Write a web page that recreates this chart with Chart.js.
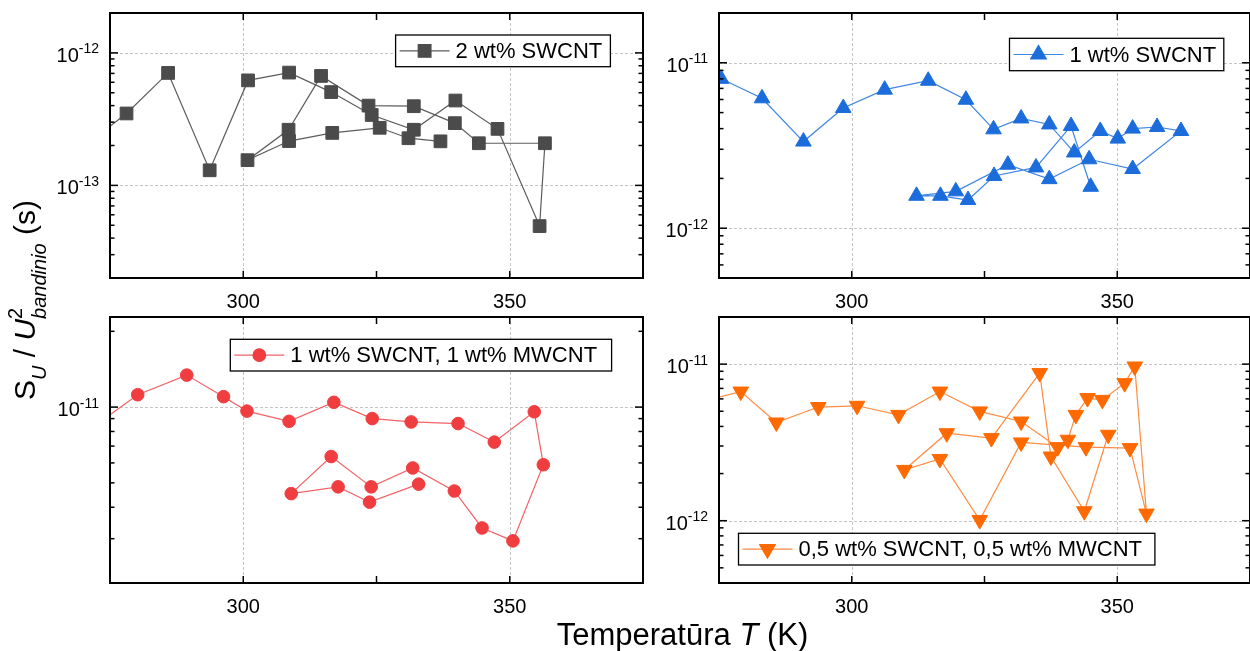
<!DOCTYPE html>
<html lang="lt">
<head>
<meta charset="utf-8">
<title>S_U / U^2 bandinio vs temperatūra</title>
<script src="https://cdn.jsdelivr.net/npm/chart.js@4.4.1/dist/chart.umd.min.js"></script>
<style>
  html, body { margin: 0; padding: 0; background: #fff; }
  body { width: 1250px; height: 651px; position: relative; overflow: hidden; }
  canvas { position: absolute; }
</style>
</head>
<body>
<canvas id="titles" width="1250" height="651" style="left:0;top:0"></canvas>
<canvas id="p1"></canvas>
<canvas id="p2"></canvas>
<canvas id="p3"></canvas>
<canvas id="p4"></canvas>
<script>
// ── axis ticks (shared by all four panels) ──
const xTickValues = [275, 300, 325, 350, 375];
const xLabelValues = [300, 350];

// ── 2 wt% SWCNT (measurement order) ──
const tempSw2 = [272, 278.1, 285.9, 293.7, 300.9, 308.6, 316.5, 324.1, 332.0, 339.8, 347.7, 355.6,
                 356.6, 344.2, 339.7, 332.0, 323.5, 314.6, 308.5, 300.8,
                 308.6, 316.7, 325.6, 331.0, 337.0];
const valSw2  = [2.25e-13, 3.49e-13, 7.06e-13, 1.30e-13, 6.2e-13, 7.1e-13, 5.06e-13, 3.4e-13, 2.63e-13, 4.37e-13, 2.67e-13, 4.93e-14,
                 2.08e-13, 2.08e-13, 2.95e-13, 3.96e-13, 4.0e-13, 6.7e-13, 2.63e-13, 1.55e-13,
                 2.16e-13, 2.49e-13, 2.72e-13, 2.27e-13, 2.15e-13];

// ── 1 wt% SWCNT ──
const tempSw1 = [275.4, 283.1, 290.9, 298.4, 306.2, 314.4, 321.5, 326.7, 331.9, 337.2, 341.9, 346.8, 350.1, 352.9, 357.5, 362.0,
                 352.9, 344.7, 337.2, 329.4, 319.6, 312.2,
                 316.7, 321.9, 326.8, 334.7, 341.3, 345.0];
const valSw1  = [8.0e-12, 6.1e-12, 3.34e-12, 5.33e-12, 6.88e-12, 7.79e-12, 5.98e-12, 3.96e-12, 4.61e-12, 4.24e-12, 2.87e-12, 3.87e-12, 3.48e-12, 4.0e-12, 4.09e-12, 3.87e-12,
                 2.28e-12, 2.61e-12, 1.98e-12, 2.42e-12, 1.67e-12, 1.57e-12,
                 1.57e-12, 1.48e-12, 2.07e-12, 2.33e-12, 4.15e-12, 1.78e-12];

// ── 1 wt% SWCNT, 1 wt% MWCNT ──
const tempMix1 = [272, 280.2, 289.4, 296.3, 300.7, 308.6, 317.0, 324.2, 331.5, 340.3, 347.1, 354.6,
                  356.3, 350.6, 344.8, 339.6, 331.8, 324.0, 316.5, 309.0,
                  317.8, 323.7, 332.9];
const valMix1  = [8.4e-12, 1.12e-11, 1.34e-11, 1.10e-11, 9.64e-12, 8.78e-12, 1.045e-11, 9.0e-12, 8.73e-12, 8.6e-12, 7.26e-12, 9.58e-12,
                  5.9e-12, 2.94e-12, 3.31e-12, 4.64e-12, 5.73e-12, 4.82e-12, 6.36e-12, 4.53e-12,
                  4.82e-12, 4.19e-12, 4.94e-12];

// ── 0,5 wt% SWCNT, 0,5 wt% MWCNT ──
const tempMix05 = [272, 279.1, 285.8, 293.7, 301.0, 308.8, 316.6, 324.1, 331.9, 338.8, 340.7, 342.2, 344.4, 347.2, 351.4, 353.3, 355.5,
                   352.4, 344.1, 331.9, 324.1, 316.6, 309.9,
                   317.9, 326.3, 335.4, 337.5, 343.8, 348.3];
const valMix05  = [5.8e-12, 6.68e-12, 4.24e-12, 5.32e-12, 5.42e-12, 4.74e-12, 6.68e-12, 4.99e-12, 4.30e-12, 2.95e-12, 3.29e-12, 4.74e-12, 6.07e-12, 5.91e-12, 7.56e-12, 9.66e-12, 1.11e-12,
                   2.91e-12, 2.95e-12, 3.16e-12, 1.01e-12, 2.48e-12, 2.11e-12,
                   3.62e-12, 3.37e-12, 8.77e-12, 2.57e-12, 1.15e-12, 3.54e-12];

const FAM = '"Liberation Sans", Arial, Helvetica, sans-serif';

const panels = [
  { id: 'p1', box: [40, 0, 640, 316], area: [110, 13, 643, 278], yMin: 2e-14, yMax: 2e-12,
    temps: tempSw2, vals: valSw2, label: '2 wt% SWCNT',
    fill: '#4b4b4b', line: '#5c5c5c', marker: 'rect', radius: 9, rotation: 0,
    legend: { x: 285.6, y: 22, w: 214.8, h: 31.7 } },
  { id: 'p2', box: [650, 0, 610, 316], area: [719, 13, 1253, 278], yMin: 5e-13, yMax: 2e-11,
    temps: tempSw1, vals: valSw1, label: '1 wt% SWCNT',
    fill: '#1c6ddb', line: '#3f86e2', marker: 'triangle', radius: 9, rotation: 0,
    legend: { x: 290.5, y: 25.3, w: 214.3, h: 32.4 } },
  { id: 'p3', box: [40, 300, 640, 351], area: [110, 317, 643, 583], yMin: 2e-12, yMax: 2.28e-11,
    temps: tempMix1, vals: valMix1, label: '1 wt% SWCNT, 1 wt% MWCNT',
    fill: '#ef3d40', line: '#f26266', marker: 'circle', radius: 6.3, rotation: 0,
    legend: { x: 120.3, y: 22.3, w: 381.3, h: 31.7 } },
  { id: 'p4', box: [650, 300, 610, 351], area: [719, 317, 1253, 583], yMin: 4e-13, yMax: 2e-11,
    temps: tempMix05, vals: valMix05, label: '0,5 wt% SWCNT, 0,5 wt% MWCNT',
    fill: '#ff6a00', line: '#ff8c42', marker: 'triangle', radius: 9, rotation: 180,
    legend: { x: 19.5, y: 216.3, w: 416.4, h: 31.7 } }
];

function decadesIn(min, max) {
  const out = [];
  for (let k = Math.ceil(Math.log10(min) - 1e-9); k <= Math.floor(Math.log10(max) + 1e-9); k++) {
    const v = Math.pow(10, k);
    if (v > min * 1.0001 && v < max * 0.9999) out.push(k);
  }
  return out;
}

function yTickList(min, max) {
  const out = [];
  for (let k = Math.floor(Math.log10(min)); k <= Math.floor(Math.log10(max)); k++) {
    for (let m = 1; m <= 9; m++) {
      const v = m * Math.pow(10, k);
      if (v > min * 1.0001 && v < max * 0.9999) out.push({ v, major: m === 1 });
    }
  }
  return out;
}

function seg(ctx, x1, y1, x2, y2) {
  ctx.beginPath(); ctx.moveTo(x1, y1); ctx.lineTo(x2, y2); ctx.stroke();
}

function drawMarker(ctx, p, x, y) {
  ctx.fillStyle = p.fill; ctx.strokeStyle = p.fill;
  if (Chart.helpers && Chart.helpers.drawPoint) {
    Chart.helpers.drawPoint(ctx, { pointStyle: p.marker, rotation: p.rotation, radius: p.radius, borderWidth: 1 }, x, y);
  } else {
    ctx.beginPath(); ctx.arc(x, y, p.radius, 0, Math.PI * 2); ctx.fill();
  }
}

function makeFrame(p) {
  return {
    id: 'frame_' + p.id,
    beforeDatasetsDraw(chart) {
      const { ctx, chartArea: a } = chart;
      const xs = chart.scales.x, ys = chart.scales.y;
      ctx.save();
      ctx.strokeStyle = '#c4c4c4'; ctx.lineWidth = 1; ctx.setLineDash([3, 2]);
      xLabelValues.forEach(v => {
        const px = Math.round(xs.getPixelForValue(v)) + 0.5;
        seg(ctx, px, a.top, px, a.bottom);
      });
      decadesIn(ys.min, ys.max).forEach(k => {
        const py = Math.round(ys.getPixelForValue(Math.pow(10, k))) + 0.5;
        seg(ctx, a.left, py, a.right, py);
      });
      ctx.restore();
    },
    afterDatasetsDraw(chart) {
      const { ctx, chartArea: a } = chart;
      const xs = chart.scales.x, ys = chart.scales.y;
      ctx.save();
      ctx.setLineDash([]);
      ctx.strokeStyle = '#000'; ctx.lineWidth = 1.5;

      // inward ticks on all four sides
      xTickValues.forEach(v => {
        if (v <= xs.min || v >= xs.max) return;
        const px = xs.getPixelForValue(v);
        seg(ctx, px, a.bottom, px, a.bottom - 7);
        seg(ctx, px, a.top, px, a.top + 7);
      });
      yTickList(ys.min, ys.max).forEach(t => {
        const py = ys.getPixelForValue(t.v);
        const len = t.major ? 8 : 4.5;
        seg(ctx, a.left, py, a.left + len, py);
        seg(ctx, a.right, py, a.right - len, py);
      });

      ctx.lineWidth = 2;
      ctx.strokeRect(a.left, a.top, a.right - a.left, a.bottom - a.top);

      // tick labels
      ctx.fillStyle = '#000';
      ctx.textBaseline = 'alphabetic';
      ctx.font = '20px ' + FAM;
      ctx.textAlign = 'center';
      xLabelValues.forEach(v => ctx.fillText(String(v), xs.getPixelForValue(v), a.bottom + 30));

      ctx.textAlign = 'left';
      decadesIn(ys.min, ys.max).forEach(k => {
        const py = ys.getPixelForValue(Math.pow(10, k));
        const exp = '-' + Math.abs(k);
        ctx.font = '14px ' + FAM;
        const wE = ctx.measureText(exp).width;
        ctx.font = '20px ' + FAM;
        const wB = ctx.measureText('10').width;
        const right = a.left - 11;
        ctx.fillText('10', right - wE - wB, py + 9);
        ctx.font = '14px ' + FAM;
        ctx.fillText(exp, right - wE, py + 0.5);
      });

      // legend
      const L = p.legend;
      const bx = a.left + L.x, by = a.top + L.y, cy = by + L.h / 2;
      ctx.fillStyle = '#fff';
      ctx.fillRect(bx, by, L.w, L.h);
      ctx.strokeStyle = '#000'; ctx.lineWidth = 1.3;
      ctx.strokeRect(bx, by, L.w, L.h);
      ctx.strokeStyle = p.line; ctx.lineWidth = 1.2;
      seg(ctx, bx + 4, cy, bx + 54, cy);
      drawMarker(ctx, p, bx + 29, cy);
      ctx.fillStyle = '#000';
      ctx.font = '22px ' + FAM;
      ctx.textBaseline = 'middle';
      ctx.fillText(p.label, bx + 60, cy + 1);
      ctx.restore();
    }
  };
}

panels.forEach(p => {
  const cv = document.getElementById(p.id);
  const [bl, bt, bw, bh] = p.box;
  const [al, at, ar, ab] = p.area;
  cv.width = bw; cv.height = bh;
  cv.style.left = bl + 'px'; cv.style.top = bt + 'px';
  cv.style.width = bw + 'px'; cv.style.height = bh + 'px';

  new Chart(cv.getContext('2d'), {
    type: 'line',
    data: {
      datasets: [{
        label: p.label,
        data: p.temps.map((t, i) => ({ x: t, y: p.vals[i] })),
        borderColor: p.line,
        borderWidth: 1.2,
        backgroundColor: p.fill,
        pointBackgroundColor: p.fill,
        pointBorderColor: p.fill,
        pointBorderWidth: 1,
        pointStyle: p.marker,
        pointRadius: p.radius,
        pointRotation: p.rotation,
        tension: 0,
        fill: false,
        clip: 0
      }]
    },
    options: {
      responsive: false,
      animation: false,
      events: [],
      layout: { padding: { left: al - bl, top: at - bt, right: bl + bw - ar, bottom: bt + bh - ab } },
      scales: {
        x: { type: 'linear', min: 275, max: 375, display: false },
        y: { type: 'logarithmic', min: p.yMin, max: p.yMax, display: false }
      },
      plugins: { legend: { display: false }, tooltip: { enabled: false } }
    },
    plugins: [makeFrame(p)]
  });
});

// ── shared axis titles ──
(function drawTitles() {
  const ctx = document.getElementById('titles').getContext('2d');
  ctx.fillStyle = '#000';
  ctx.textBaseline = 'alphabetic';

  // x title
  const xParts = [['Temperatūra ', ''], ['T', 'italic '], [' (K)', '']];
  let total = 0;
  xParts.forEach(([t, st]) => { ctx.font = st + '31px ' + FAM; total += ctx.measureText(t).width; });
  let x = 682.5 - total / 2;
  xParts.forEach(([t, st]) => {
    ctx.font = st + '31px ' + FAM;
    ctx.fillText(t, x, 645);
    x += ctx.measureText(t).width;
  });

  // y title, rotated
  ctx.save();
  ctx.translate(35, 400);
  ctx.rotate(-Math.PI / 2);
  let pos = 0;
  const put = (t, size, st, dy) => {
    ctx.font = st + size + 'px ' + FAM;
    ctx.fillText(t, pos, dy);
    return ctx.measureText(t).width;
  };
  pos += put('S', 30, '', 0);
  pos += put('U', 20, 'italic ', 11);
  pos += put(' / ', 30, '', 0);
  pos += put('U', 30, 'italic ', 0);
  const wSup = put('2', 20, '', -13);
  const wSub = put('bandinio', 20, 'italic ', 11);
  pos += Math.max(wSup, wSub);
  put(' (s)', 30, '', 0);
  ctx.restore();
})();
</script>
</body>
</html>
